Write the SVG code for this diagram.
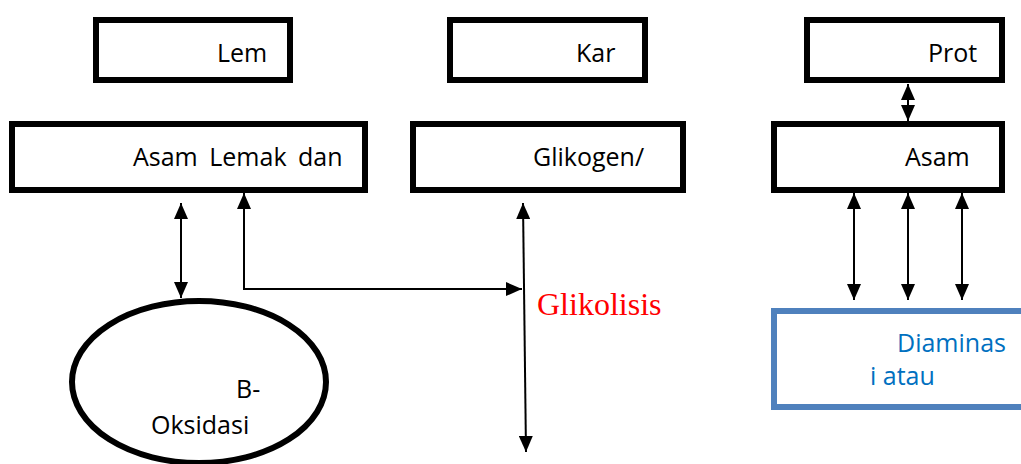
<svg xmlns="http://www.w3.org/2000/svg" width="1021" height="464" viewBox="0 0 1021 464">
  <style>
    .box { fill: #ffffff; stroke: #000000; stroke-width: 6; }
    .blue { fill: #ffffff; stroke: #4F81BD; stroke-width: 6; }
    .lbl { font-family: "Open Sans", "Noto Sans", sans-serif; font-size: 25px; fill: #000000; }
    .lblb { font-family: "Open Sans", "Noto Sans", sans-serif; font-size: 25px; fill: #0070C0; }
    .red { font-family: "Liberation Serif", "Times New Roman", serif; font-size: 32px; fill: #FF0000; }
    .con { stroke: #000000; stroke-width: 2; fill: none; }
  </style>
  <defs>
    <marker id="head" markerUnits="userSpaceOnUse" markerWidth="16" markerHeight="14" refX="16" refY="7" orient="auto-start-reverse">
      <path d="M0,0 L16,7 L0,14 z" fill="#000000"/>
    </marker>
  </defs>
  <rect width="1021" height="464" fill="#ffffff"/>

  <!-- fat column -->
  <g id="lemak">
    <rect class="box" x="96" y="20" width="194" height="60"/>
    <text class="lbl" x="217" y="62">Lem</text>
  </g>
  <g id="asam-lemak">
    <rect class="box" x="12" y="124" width="353" height="66"/>
    <text class="lbl" x="133" y="166" word-spacing="5">Asam Lemak dan</text>
  </g>
  <g id="b-oksidasi">
    <ellipse cx="199" cy="382" rx="127" ry="81" fill="#ffffff" stroke="#000000" stroke-width="6"/>
    <text class="lbl" x="236" y="398">B-</text>
    <text class="lbl" x="151" y="434">Oksidasi</text>
  </g>

  <!-- carbohydrate column -->
  <g id="karbohidrat">
    <rect class="box" x="450" y="20" width="195" height="60"/>
    <text class="lbl" x="576" y="62">Kar</text>
  </g>
  <g id="glikogen">
    <rect class="box" x="413" y="124" width="270" height="66"/>
    <text class="lbl" x="533" y="166">Glikogen/</text>
  </g>
  <g id="glikolisis">
    <text class="red" x="537" y="315">Glikolisis</text>
  </g>

  <!-- protein column -->
  <g id="protein">
    <rect class="box" x="807" y="20" width="195" height="60"/>
    <text class="lbl" x="928" y="62">Prot</text>
  </g>
  <g id="asam-amino">
    <rect class="box" x="774" y="124" width="228" height="66"/>
    <text class="lbl" x="905" y="166">Asam</text>
  </g>
  <g id="diaminasi">
    <rect class="blue" x="774" y="311" width="260" height="96"/>
    <text class="lblb" x="897" y="352">Diaminas</text>
    <text class="lblb" x="870" y="385">i atau</text>
  </g>

  <g id="connectors">
    <line class="con" x1="181" y1="203" x2="181" y2="298" marker-start="url(#head)" marker-end="url(#head)"/>
    <polyline class="con" points="244,193 244,289 522,289" marker-start="url(#head)" marker-end="url(#head)"/>
    <line class="con" x1="523" y1="203" x2="526" y2="452" marker-start="url(#head)" marker-end="url(#head)"/>
    <line class="con" x1="908" y1="84" x2="908" y2="121" marker-start="url(#head)" marker-end="url(#head)"/>
    <line class="con" x1="854" y1="193" x2="854" y2="300" marker-start="url(#head)" marker-end="url(#head)"/>
    <line class="con" x1="908" y1="193" x2="908" y2="300" marker-start="url(#head)" marker-end="url(#head)"/>
    <line class="con" x1="962" y1="193" x2="962" y2="300" marker-start="url(#head)" marker-end="url(#head)"/>
  </g>
</svg>
